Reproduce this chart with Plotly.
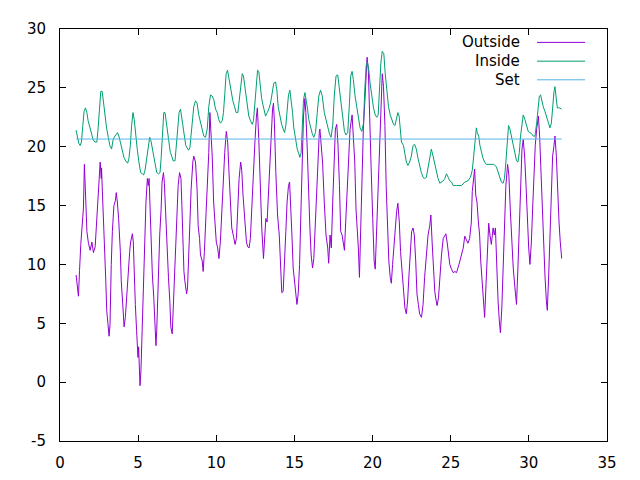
import plotly.graph_objects as go

# readings (day of month, deg C) taken off the logger plot
out_day = [1.03, 1.12, 1.18, 1.25, 1.33, 1.5, 1.56, 1.67, 1.72, 1.82, 1.93, 2.04, 2.14, 2.25, 2.31, 2.37, 2.41, 2.5, 2.57,
           2.64, 2.66, 2.7, 2.79, 2.87, 2.93, 2.99, 3.08, 3.14, 3.2, 3.22, 3.28, 3.35, 3.41, 3.45, 3.54, 3.6, 3.67, 3.75,
           3.86, 3.92, 4.03, 4.1, 4.18, 4.27, 4.35, 4.46, 4.52, 4.63, 4.69, 4.73, 4.82, 4.9, 4.99, 5.03, 5.12, 5.18, 5.25,
           5.31, 5.38, 5.44, 5.5, 5.59, 5.65, 5.7, 5.78, 5.85, 5.91, 6.0, 6.06, 6.14, 6.19, 6.25, 6.32, 6.38, 6.47, 6.53,
           6.62, 6.68, 6.75, 6.81, 6.88, 6.94, 7.03, 7.09, 7.18, 7.24, 7.31, 7.39, 7.48, 7.56, 7.65, 7.74, 7.8, 7.86, 7.93,
           7.99, 8.1, 8.16, 8.24, 8.3, 8.39, 8.5, 8.56, 8.67, 8.77, 8.84, 8.93, 8.99, 9.1, 9.16, 9.24, 9.35, 9.44, 9.52,
           9.59, 9.66, 9.74, 9.83, 9.91, 10.0, 10.09, 10.17, 10.26, 10.34, 10.43, 10.54, 10.64, 10.73, 10.82, 10.9, 10.99,
           11.1, 11.2, 11.29, 11.37, 11.46, 11.56, 11.63, 11.71, 11.82, 11.93, 12.01, 12.1, 12.18, 12.27, 12.38, 12.48,
           12.57, 12.63, 12.72, 12.8, 12.91, 13.02, 13.11, 13.17, 13.25, 13.34, 13.42, 13.51, 13.6, 13.66, 13.72, 13.81,
           13.92, 14.03, 14.13, 14.19, 14.28, 14.36, 14.45, 14.53, 14.62, 14.69, 14.75, 14.84, 14.92, 15.03, 15.16, 15.24,
           15.33, 15.41, 15.5, 15.58, 15.67, 15.73, 15.82, 15.9, 15.99, 16.07, 16.16, 16.24, 16.33, 16.41, 16.5, 16.59,
           16.63, 16.71, 16.8, 16.91, 17.02, 17.13, 17.19, 17.28, 17.36, 17.45, 17.55, 17.62, 17.71, 17.79, 17.88, 17.96,
           18.05, 18.13, 18.2, 18.28, 18.37, 18.45, 18.56, 18.69, 18.77, 18.86, 18.94, 19.03, 19.09, 19.16, 19.24, 19.33,
           19.41, 19.5, 19.59, 19.65, 19.73, 19.8, 19.91, 20.01, 20.1, 20.17, 20.25, 20.34, 20.44, 20.53, 20.62, 20.7,
           20.79, 20.87, 20.96, 21.04, 21.13, 21.2, 21.28, 21.37, 21.45, 21.54, 21.62, 21.71, 21.79, 21.9, 22.01, 22.07,
           22.16, 22.24, 22.33, 22.41, 22.5, 22.59, 22.67, 22.76, 22.84, 22.93, 23.01, 23.13, 23.23, 23.33, 23.44, 23.55,
           23.66, 23.73, 23.81, 23.9, 23.98, 24.07, 24.13, 24.22, 24.3, 24.41, 24.52, 24.63, 24.69, 24.77, 24.86, 24.94,
           25.05, 25.16, 25.27, 25.37, 25.53, 25.69, 25.8, 25.9, 26.0, 26.1, 26.21, 26.32, 26.38, 26.47, 26.53, 26.6,
           26.68, 26.77, 26.85, 26.92, 27.0, 27.09, 27.17, 27.26, 27.34, 27.43, 27.51, 27.6, 27.71, 27.79, 27.86, 27.94,
           28.03, 28.11, 28.18, 28.27, 28.36, 28.44, 28.53, 28.64, 28.72, 28.81, 28.89, 29.0, 29.11, 29.21, 29.3, 29.39,
           29.47, 29.56, 29.64, 29.73, 29.82, 29.9, 29.99, 30.07, 30.16, 30.24, 30.33, 30.41, 30.5, 30.61, 30.69, 30.78,
           30.86, 30.95, 31.03, 31.12, 31.18, 31.27, 31.35, 31.44, 31.52, 31.61, 31.67, 31.76, 31.84, 31.93, 32.01, 32.1]
out_temp = [9.1, 8.0, 7.3, 9.5, 11.7, 14.8, 18.5, 14.7, 12.8, 11.8, 11.2, 11.9, 11.0, 11.5, 12.9, 13.9, 15.6, 17.6, 18.7,
            17.3, 18.2, 16.6, 13.9, 10.8, 8.6, 6.1, 4.4, 3.9, 4.9, 7.2, 10.0, 12.8, 14.3, 15.0, 15.4, 16.1, 15.3, 13.9,
            11.1, 8.6, 6.3, 4.7, 5.5, 7.5, 9.4, 11.1, 11.9, 12.6, 11.9, 9.6, 6.6, 4.4, 2.1, 3.0, -0.3, 1.0, 4.1,
            6.6, 10.0, 13.1, 15.3, 17.3, 16.7, 17.3, 14.2, 10.8, 9.1, 7.2, 5.5, 3.1, 4.4, 7.2, 10.3, 12.5, 14.7, 17.0,
            17.8, 16.9, 14.7, 12.5, 10.5, 8.9, 6.8, 4.7, 4.1, 6.1, 9.4, 12.5, 15.0, 16.7, 17.8, 17.3, 15.0, 11.9, 9.4,
            8.6, 7.5, 8.0, 11.4, 13.3, 16.4, 18.7, 19.2, 18.7, 16.4, 13.3, 12.2, 10.8, 10.3, 9.4, 11.1, 14.5, 17.0, 19.5,
            22.9, 21.5, 19.2, 15.3, 13.3, 11.9, 11.4, 10.5, 11.9, 14.2, 16.7, 19.5, 21.3, 20.4, 17.6, 15.0, 13.1,
            12.4, 11.7, 12.2, 15.0, 17.3, 18.7, 18.0, 15.9, 13.6, 11.9, 11.5, 11.4, 12.2, 15.0, 18.1, 20.6,
            22.6, 23.3, 20.6, 17.0, 13.1, 10.5, 12.5, 13.9, 13.6, 15.9, 18.4, 21.2, 23.2, 23.7, 22.0, 17.8,
            14.2, 12.5, 9.4, 7.6, 7.7, 9.7, 12.8, 15.3, 16.7, 17.0, 15.6, 12.5, 9.7, 8.0, 6.6, 7.5,
            10.0, 14.2, 18.4, 22.6, 24.1, 22.9, 19.8, 15.9, 13.1, 10.8, 9.7, 10.5, 13.1, 16.4, 19.2, 21.2,
            21.5, 19.8, 18.7, 15.3, 12.5, 11.4, 10.1, 12.5, 11.4, 15.3, 19.2, 21.5, 21.9, 20.1, 16.7, 12.8,
            12.5, 11.9, 11.2, 13.6, 16.2, 18.7, 21.5, 22.7, 21.2, 18.7, 14.7, 13.1, 11.4, 8.9, 13.6, 17.6,
            21.5, 23.7, 26.8, 27.6, 26.5, 22.3, 18.1, 13.9, 10.3, 9.6, 12.5, 16.4, 20.4, 23.7, 26.2, 25.1,
            21.8, 16.7, 13.1, 10.3, 8.9, 8.4, 10.0, 11.7, 13.1, 14.5, 15.2, 13.6, 11.1, 9.1, 7.5, 6.3,
            5.8, 6.9, 9.1, 11.1, 12.8, 13.1, 12.5, 10.3, 7.5, 6.6, 5.8, 5.5, 6.6, 8.9, 10.8, 12.5,
            13.3, 14.2, 11.9, 9.7, 7.7, 6.9, 6.5, 7.2, 9.1, 10.8, 12.2, 12.5, 12.6, 11.9, 11.1, 10.0,
            9.6, 9.3, 9.4, 9.3, 10.0, 10.8, 11.4, 12.4, 12.1, 11.8, 12.2, 13.6, 16.2, 17.6, 18.1, 15.9,
            15.3, 13.6, 12.5, 10.3, 8.6, 6.9, 5.5, 8.3, 11.4, 13.5, 12.5, 11.7, 13.1, 12.5, 13.1, 9.7,
            6.9, 5.2, 4.2, 6.3, 9.7, 13.6, 16.7, 18.5, 17.6, 14.7, 11.9, 9.7, 8.0, 6.6, 9.7, 13.6,
            17.6, 19.8, 20.6, 19.2, 16.7, 13.6, 11.4, 10.0, 11.9, 14.7, 17.6, 20.1, 21.5, 22.6, 20.9, 17.6,
            14.2, 11.4, 9.1, 6.9, 6.1, 9.1, 13.1, 16.7, 19.2, 20.1, 20.9, 19.2, 15.9, 13.6, 11.9, 10.5]

in_day = [1.03, 1.1, 1.2, 1.29, 1.37, 1.46, 1.54, 1.63, 1.72, 1.8, 1.91, 2.02, 2.12, 2.23, 2.36, 2.44, 2.53, 2.61, 2.7,
          2.79, 2.87, 2.98, 3.09, 3.19, 3.3, 3.4, 3.51, 3.62, 3.68, 3.77, 3.87, 3.98, 4.09, 4.2, 4.33, 4.41, 4.5, 4.58,
          4.67, 4.75, 4.84, 4.95, 5.05, 5.16, 5.27, 5.35, 5.44, 5.55, 5.65, 5.74, 5.82, 5.91, 6.0, 6.08, 6.19, 6.3, 6.4,
          6.47, 6.55, 6.64, 6.72, 6.81, 6.89, 6.98, 7.06, 7.15, 7.24, 7.36, 7.45, 7.53, 7.62, 7.71, 7.79, 7.88, 7.96,
          8.05, 8.14, 8.22, 8.31, 8.39, 8.48, 8.56, 8.67, 8.77, 8.88, 8.99, 9.1, 9.2, 9.31, 9.42, 9.52, 9.63, 9.74, 9.84,
          9.95, 10.06, 10.16, 10.27, 10.38, 10.46, 10.55, 10.63, 10.72, 10.8, 10.89, 10.97, 11.06, 11.17, 11.27, 11.38,
          11.49, 11.57, 11.66, 11.74, 11.83, 11.91, 12.0, 12.08, 12.19, 12.3, 12.38, 12.47, 12.55, 12.64, 12.72, 12.81,
          12.9, 12.98, 13.07, 13.15, 13.26, 13.36, 13.47, 13.58, 13.68, 13.79, 13.88, 13.96, 14.07, 14.18, 14.28, 14.37,
          14.45, 14.54, 14.62, 14.71, 14.79, 14.88, 14.96, 15.07, 15.18, 15.28, 15.35, 15.43, 15.5, 15.58, 15.67, 15.75,
          15.84, 15.92, 16.03, 16.14, 16.24, 16.35, 16.46, 16.56, 16.67, 16.78, 16.91, 17.02, 17.13, 17.24, 17.34,
          17.45, 17.55, 17.66, 17.77, 17.88, 17.98, 18.09, 18.2, 18.3, 18.41, 18.52, 18.6, 18.69, 18.77, 18.88, 18.99,
          19.09, 19.2, 19.31, 19.42, 19.5, 19.59, 19.67, 19.76, 19.84, 19.95, 20.06, 20.17, 20.27, 20.36, 20.44, 20.53,
          20.62, 20.72, 20.81, 20.92, 21.02, 21.13, 21.24, 21.34, 21.43, 21.51, 21.62, 21.7, 21.79, 21.85, 21.98, 22.07,
          22.16, 22.26, 22.37, 22.48, 22.59, 22.69, 22.8, 22.91, 23.01, 23.12, 23.23, 23.33, 23.44, 23.55, 23.66, 23.76,
          23.87, 23.98, 24.09, 24.19, 24.3, 24.41, 24.52, 24.62, 24.73, 24.84, 24.94, 25.05, 25.16, 25.37, 25.69, 25.9,
          26.1, 26.26, 26.38, 26.47, 26.55, 26.64, 26.7, 26.79, 26.87, 26.96, 27.07, 27.17, 27.28, 27.45, 27.6, 27.75,
          27.92, 28.03, 28.13, 28.24, 28.35, 28.44, 28.53, 28.62, 28.7, 28.79, 28.89, 29.0, 29.11, 29.21, 29.3, 29.39,
          29.47, 29.56, 29.64, 29.75, 29.86, 29.96, 30.07, 30.18, 30.28, 30.39, 30.5, 30.58, 30.67, 30.75, 30.84, 30.92,
          31.03, 31.14, 31.24, 31.35, 31.44, 31.52, 31.61, 31.67, 31.76, 31.82, 31.95, 32.1]
in_temp = [21.4, 20.8, 20.3, 20.1, 20.4, 21.8, 23.0, 23.3, 22.9, 22.2, 21.6, 21.1, 20.6, 20.4, 20.4, 21.6, 23.4, 24.7, 24.7,
           23.7, 22.6, 21.6, 20.8, 20.1, 19.8, 20.6, 20.9, 21.1, 21.2, 20.9, 20.4, 19.7, 19.1, 18.8, 18.6, 19.0, 20.1, 21.8,
           22.9, 22.3, 20.9, 19.7, 18.7, 17.8, 17.7, 17.6, 18.0, 19.0, 20.2, 20.8, 20.5, 19.8, 19.2, 18.7, 17.8, 17.7, 17.8,
           19.0, 21.2, 22.9, 22.9, 22.0, 20.9, 20.1, 19.5, 19.2, 18.8, 18.8, 20.4, 21.8, 22.9, 23.2, 22.3, 21.8, 20.9,
           20.1, 19.8, 19.7, 19.9, 21.2, 22.6, 23.4, 23.9, 23.7, 22.7, 22.0, 21.5, 20.9, 20.8, 21.5, 23.4, 24.4, 24.3, 24.0,
           23.2, 22.9, 22.3, 22.0, 22.2, 22.9, 24.6, 26.2, 26.5, 25.8, 25.0, 24.3, 23.9, 23.4, 22.9, 22.9,
           24.3, 25.4, 26.2, 26.0, 25.1, 24.1, 23.3, 22.6, 22.2, 21.9, 22.2, 24.0, 25.4, 26.5, 26.4, 25.1,
           24.1, 23.6, 23.0, 22.6, 22.9, 23.2, 23.7, 24.6, 25.4, 25.5, 24.8, 23.4, 22.6, 21.9, 21.5, 21.2,
           21.8, 23.2, 24.4, 24.8, 24.0, 22.9, 21.6, 20.6, 19.8, 19.4, 19.1, 19.5, 22.0, 24.0, 24.6, 24.0,
           23.2, 22.3, 21.6, 21.1, 20.8, 21.2, 22.9, 24.3, 24.8, 24.3, 22.9, 22.2, 21.6, 21.1, 20.8,
           21.8, 24.3, 26.0, 26.1, 24.8, 23.7, 22.3, 21.3, 21.0, 21.2, 23.7, 26.0, 26.4, 25.7, 24.3, 23.4,
           22.3, 21.6, 21.3, 22.0, 24.8, 26.9, 27.2, 26.5, 25.4, 24.1, 23.3, 22.7, 22.5, 22.7, 24.8, 27.1,
           28.1, 27.9, 26.2, 24.6, 23.4, 22.7, 22.2, 21.9, 21.8, 22.3, 22.9, 22.6, 21.5, 20.4, 20.1, 19.4,
           18.7, 18.4, 18.7, 19.2, 20.1, 20.2, 19.8, 19.0, 18.3, 17.8, 17.4, 17.3, 17.4, 18.3, 19.2, 19.8,
           19.2, 18.5, 17.8, 17.3, 16.9, 17.0, 17.1, 17.3, 17.7, 17.4, 17.1, 17.0, 16.7, 16.7, 16.7, 17.0,
           17.1, 17.4, 18.0, 19.2, 20.6, 21.6, 21.2, 20.9, 20.1, 19.5, 19.0, 18.7, 18.5, 18.5, 18.5, 18.5,
           18.3, 17.8, 17.3, 17.0, 16.9, 17.3, 18.7, 20.6, 21.8, 21.5, 20.9, 20.1, 19.4, 18.8, 18.7, 19.5,
           20.9, 22.0, 22.7, 22.3, 21.8, 21.3, 21.2, 21.1, 20.9, 20.9, 22.0, 23.4, 24.3, 24.4, 23.7, 23.4,
           23.0, 22.5, 21.9, 21.6, 22.0, 23.7, 24.7, 25.1, 24.1, 23.3, 23.3, 23.2]

set_day = [1.03, 32.1]
set_temp = [20.65, 20.65]

# y tick labels use a plain hyphen, like gnuplot
y_ticks = [-5, 0, 5, 10, 15, 20, 25, 30]
y_labels = ["-5", "0", "5", "10", "15", "20", "25", "30"]

names = ["Outside", "Inside", "Set"]
colors = ["#9400D3", "#009E73", "#56B4E9"]

fig = go.Figure()
fig.add_trace(go.Scatter(x=out_day, y=out_temp, mode="lines", name=names[0],
                         line=dict(color=colors[0], width=1)))
fig.add_trace(go.Scatter(x=in_day, y=in_temp, mode="lines", name=names[1],
                         line=dict(color=colors[1], width=1)))
fig.add_trace(go.Scatter(x=set_day, y=set_temp, mode="lines", name=names[2],
                         line=dict(color=colors[2], width=1)))

# gnuplot style key: text right aligned, sample line to the right
key_rows = [0.9675, 0.9219, 0.8767]
for name, col, ky in zip(names, colors, key_rows):
    fig.add_annotation(x=0.844, y=ky, xref="paper", yref="paper", text=name, showarrow=False,
                       xanchor="right", yanchor="middle", font=dict(size=15, color="black"))
    fig.add_shape(type="line", xref="paper", yref="paper", x0=0.872, x1=0.960, y0=ky, y1=ky,
                  line=dict(color=col, width=1))

axis_style = dict(showline=True, linecolor="black", linewidth=1, mirror="ticks", ticks="inside",
                  ticklen=6, tickcolor="black", showgrid=False, zeroline=False,
                  tickfont=dict(size=15, color="black"))
fig.update_xaxes(range=[0, 35], dtick=5, ticklabelstandoff=8, **axis_style)
fig.update_yaxes(range=[-5, 30], tickvals=y_ticks, ticktext=y_labels, ticklabelstandoff=10, **axis_style)

# page body adds 8px, so margins are shifted to keep the frame at 60..607 x 22..441
fig.update_layout(width=640, height=480, showlegend=False,
                  margin=dict(l=52, r=41, t=14, b=47),
                  paper_bgcolor="white", plot_bgcolor="white",
                  font=dict(family="DejaVu Sans", size=15, color="black"))

fig.write_html("out.html")
